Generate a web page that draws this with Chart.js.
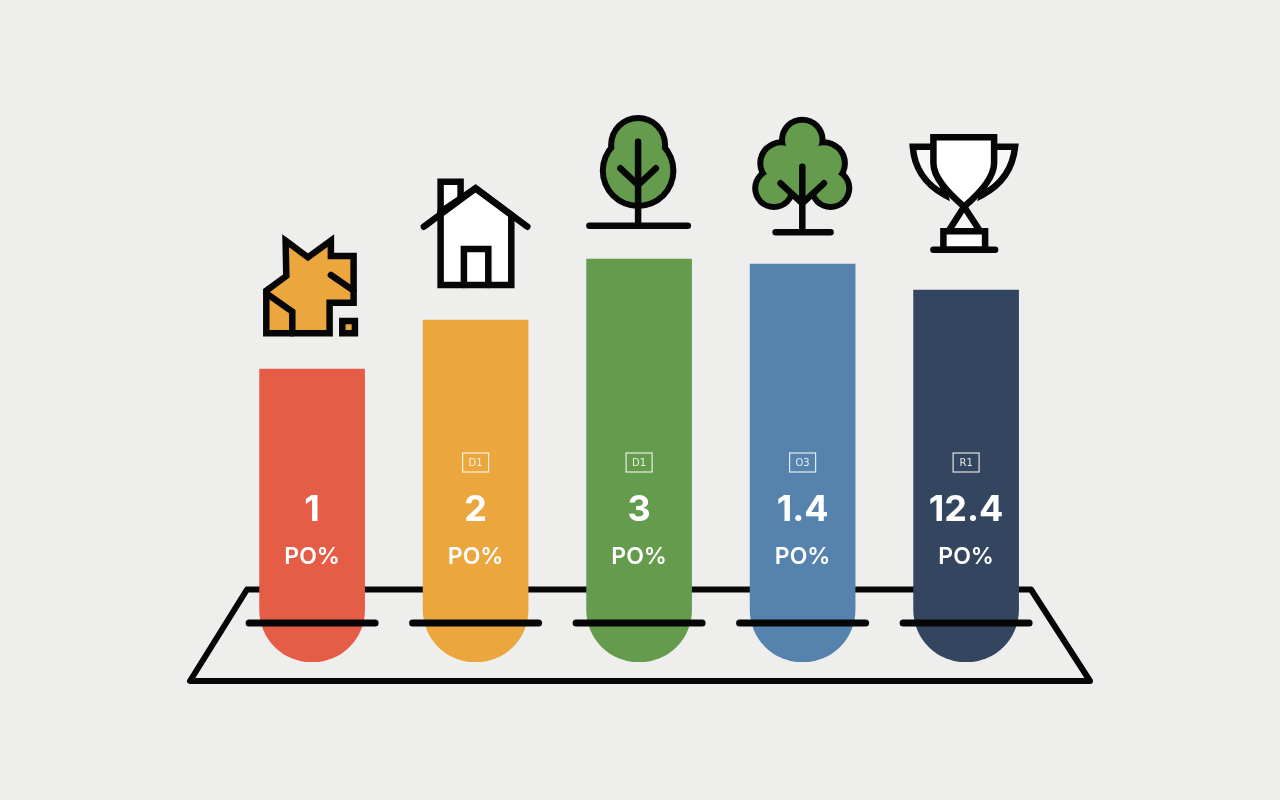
<!DOCTYPE html>
<html>
<head>
<meta charset="utf-8">
<title>Bars</title>
<script src="https://cdn.jsdelivr.net/npm/chart.js@4"></script>
<style>
  html,body{margin:0;padding:0;background:#eeeeed;}
  canvas{display:block;}
</style>
</head>
<body>
<canvas id="barChart" width="1280" height="800"></canvas>
<script>
const categories = ['star','house','tree','bush','trophy'];
// bar heights are their own series: the numbers printed on the bars do not scale with them
// (1.4 stands taller than 12.4), so valueLabels is text only
const barValues = [293, 342, 403, 398, 372];
const barColors = ['#e55c47','#eba63e','#649b4c','#5583ae','#34465f'];
const valueLabels = ['1','2','3','1.4','12.4'];
const unitLabels = ['PO%','PO%','PO%','PO%','PO%'];
const badgeLabels = ['','D1','D1','O3','R1'];

const INK = '#060606';
const GREEN = '#649b4c';
const ORANGE = '#eba63e';

function strokePath(ctx, d, fill){
  const p = new Path2D(d);
  if(fill){ ctx.fillStyle = fill; ctx.fill(p); }
  ctx.stroke(p);
}

// black discs first, then smaller green ones, so only the outer outline of the crown stays
function crown(ctx, lobes, core){
  ctx.fillStyle = INK;
  lobes.forEach(l=>{ ctx.beginPath(); ctx.arc(l[0], l[1], l[2], 0, Math.PI*2); ctx.fill(); });
  ctx.fillStyle = GREEN;
  lobes.forEach(l=>{ ctx.beginPath(); ctx.arc(l[0], l[1], l[2]-6, 0, Math.PI*2); ctx.fill(); });
  if(core) ctx.fill(new Path2D(core));
}

// icons are drawn around (bar centre, bar top)
const icons = {
  star(ctx){
    strokePath(ctx, 'M-26.5 -128.3L-4.2 -111.7L18.8 -128.3V-113H41.5V-66.3H17.5V-35.7H-45.8V-78.3L-25.8 -93Z', ORANGE);
    strokePath(ctx, 'M18.8 -94L41.5 -78.3M-45.8 -75.7L-19.8 -57.3V-35.7');
    strokePath(ctx, 'M30.2 -48H42.8V-35.7H30.2Z', ORANGE);
  },
  house(ctx){
    strokePath(ctx, 'M-35 -108V-138.3H-15V-120Z', '#fff');
    strokePath(ctx, 'M-35 -35V-108L0 -131.7L35.7 -105V-35Z', '#fff');
    strokePath(ctx, 'M-51.7 -93.3L0 -131.7L51.7 -93.3');
    strokePath(ctx, 'M-11.7 -35V-71H12.7V-35');
  },
  tree(ctx){
    crown(ctx, [[-1,-114,30],[-1,-88.3,38.3]]);
    strokePath(ctx, 'M-1 -117.3V-33.3M-18.7 -90.7L-1 -74L16.7 -90.7M-49.7 -33.3H48.7');
  },
  bush(ctx){
    crown(ctx,
      [[-0.3,-124,23.3],[-21.3,-100.7,24],[21.3,-100.7,24],[-28.7,-75.7,21.7],[28,-75.7,21.7]],
      'M-0.3 -124L21.3 -100.7L28 -75.7L-0.3 -64L-28.7 -75.7L-21.3 -100.7Z');
    strokePath(ctx, 'M-0.3 -97.3V-31.7M-22 -80.7L-0.3 -60.7L21.3 -80.7M-27 -31.7H28');
  },
  trophy(ctx){
    strokePath(ctx, 'M-32.7 -143.3H-53.3C-52 -124 -42 -106 -21 -95Z', '#f7f7f7');
    strokePath(ctx, 'M28 -143.3H49C47 -124 37 -106 16 -95Z', '#f7f7f7');
    strokePath(ctx, 'M-2 -83.3L-17.7 -58.7H14Z', '#f7f7f7');
    strokePath(ctx, 'M-32.7 -152.7V-127C-32.7 -112 -18 -97 -2 -83.3C14 -97 28 -112 28 -127V-152.7Z', '#fff');
    strokePath(ctx, 'M-22.7 -58.7H19V-40.3H-22.7Z', '#fff');
    strokePath(ctx, 'M-32.7 -40.3H29');
  }
};

function penSetup(ctx, width, join){
  ctx.strokeStyle = INK; ctx.lineWidth = width;
  ctx.lineCap = 'round'; ctx.lineJoin = join || 'round';
  ctx.miterLimit = 4;
}

const platform = {
  id:'platform',
  // the tray outline goes behind the bars, the short rests in front of them
  beforeDatasetsDraw(chart){
    const ctx = chart.ctx, base = chart.chartArea.bottom;
    ctx.save();
    penSetup(ctx, 6);
    ctx.beginPath();
    ctx.moveTo(247, base-72.5); ctx.lineTo(190, base+19);
    ctx.lineTo(1090, base+19); ctx.lineTo(1031, base-72.5);
    ctx.closePath(); ctx.stroke();
    ctx.restore();
  },
  afterDatasetsDraw(chart){
    const ctx = chart.ctx, base = chart.chartArea.bottom;
    ctx.save();
    penSetup(ctx, 7);
    chart.getDatasetMeta(0).data.forEach(bar=>{
      ctx.beginPath();
      ctx.moveTo(bar.x-63, base-39); ctx.lineTo(bar.x+63, base-39);
      ctx.stroke();
    });
    ctx.restore();
  }
};

const barDecor = {
  id:'barDecor',
  afterDatasetsDraw(chart){
    const ctx = chart.ctx, base = chart.chartArea.bottom;
    ctx.save();
    chart.getDatasetMeta(0).data.forEach((bar,i)=>{
      ctx.save();
      ctx.translate(bar.x, bar.y);
      penSetup(ctx, 6.5, 'miter');
      icons[categories[i]](ctx);
      ctx.restore();

      ctx.fillStyle = '#fff';
      ctx.textAlign = 'center'; ctx.textBaseline = 'middle';
      ctx.font = '700 36px Inter';
      ctx.fillText(valueLabels[i], bar.x, base-152);
      ctx.font = '600 23px Inter';
      ctx.fillText(unitLabels[i], bar.x, base-105);
      if(badgeLabels[i]){
        ctx.strokeStyle = 'rgba(255,255,255,0.85)'; ctx.lineWidth = 1.2;
        ctx.strokeRect(bar.x-13, base-209, 26, 19);
        ctx.font = '400 10px "DejaVu Sans"';
        ctx.fillStyle = 'rgba(255,255,255,0.85)';
        ctx.fillText(badgeLabels[i], bar.x, base-199);
      }
    });
    ctx.restore();
  }
};

new Chart(document.getElementById('barChart').getContext('2d'),{
  type:'bar',
  data:{
    labels:categories,
    datasets:[{
      data:barValues,
      backgroundColor:barColors,
      barThickness:105,
      borderSkipped:false,
      borderRadius:{topLeft:0, topRight:0, bottomLeft:52.5, bottomRight:52.5}
    }]
  },
  options:{
    responsive:false,
    animation:false,
    layout:{padding:{left:230.35, right:232.15, top:0, bottom:138}},
    scales:{
      x:{display:false},
      y:{display:false, min:0, max:662}
    },
    plugins:{legend:{display:false}, tooltip:{enabled:false}}
  },
  plugins:[platform, barDecor]
});
</script>
</body>
</html>
